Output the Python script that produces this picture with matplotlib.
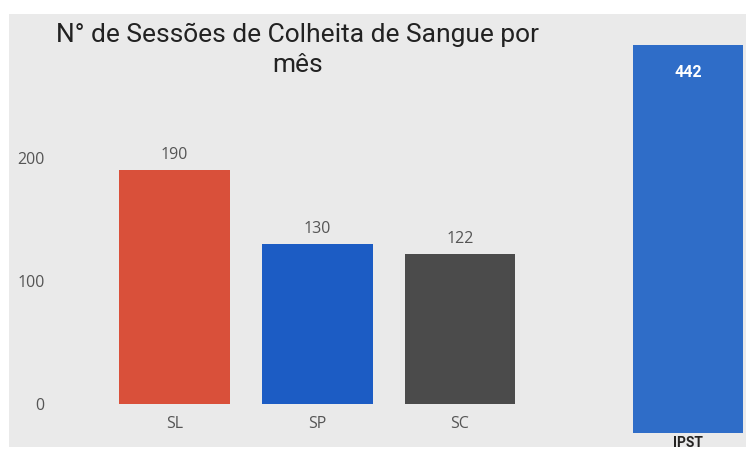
import matplotlib.pyplot as plt
from matplotlib.patches import Rectangle

# data
categories = ['SL', 'SP', 'SC']
sessions = [190, 130, 122]
bar_colors = ['#d9503a', '#1c5cc4', '#4b4b4b']
total_label = 'IPST'
total_value = 442
total_color = '#2f6dc8'
y_ticks = [0, 100, 200]

W, H = 746, 450
fig = plt.figure(figsize=(W / 100, H / 100), dpi=100)
fig.patch.set_facecolor('white')

# grey card background
fig.add_artist(Rectangle((9 / W, 3 / H), 1, (H - 17) / H, transform=fig.transFigure,
                         facecolor='#eaeaea', edgecolor='none', zorder=-1))

def px_axes(left, bottom_from_top, width, height):
    return fig.add_axes([left / W, (H - bottom_from_top) / H, width / W, height / H])

tick_font = ['Open Sans', 'DejaVu Sans']

# left chart
ax = px_axes(60, 404, 500, 307.5)
ax.patch.set_alpha(0)
x = range(len(categories))
bars = ax.bar(x, sessions, width=0.776, color=bar_colors)
ax.set_xlim(-0.8, 2.7)
ax.set_ylim(0, 250)
ax.set_yticks(y_ticks)
ax.set_xticks(list(x))
ax.set_xticklabels(categories)
for lab in ax.get_xticklabels() + ax.get_yticklabels():
    lab.set_family(tick_font)
    lab.set_fontsize(11.5)
    lab.set_color('#555555')
ax.tick_params(length=0)
ax.tick_params(axis='y', pad=11)
ax.tick_params(axis='x', pad=9)
for s in ax.spines.values():
    s.set_visible(False)
for b, v in zip(bars, sessions):
    ax.annotate(str(v), (b.get_x() + b.get_width() / 2, v), xytext=(0, 5),
                textcoords='offset points', ha='center', va='bottom',
                fontsize=11.5, color='#555555', family=tick_font)

fig.text(298 / W, 1 - 50 / H, 'N° de Sessões de Colheita de Sangue por\nmês',
         ha='center', va='center', fontsize=19, color='#222222',
         family=['Roboto', 'DejaVu Sans'], linespacing=1.3)

# right chart
ax2 = px_axes(598, 433, 180, 395)
ax2.patch.set_alpha(0)
ax2.bar([0], [total_value], width=0.611, color=total_color)
ax2.set_xlim(-0.5, 0.5)
ax2.set_ylim(0, 450)
ax2.set_yticks([])
ax2.set_xticks([0])
ax2.set_xticklabels([total_label], fontsize=10, fontweight='bold', color='#252423',
                    family=['Roboto', 'DejaVu Sans'])
ax2.tick_params(length=0, pad=2)
for s in ax2.spines.values():
    s.set_visible(False)
ax2.annotate(str(total_value), (0, total_value), xytext=(0, -20),
             textcoords='offset points', ha='center', va='center',
             fontsize=11.5, fontweight='bold', color='white',
             family=['Roboto', 'DejaVu Sans'])

fig.savefig('out.png', dpi=100)
